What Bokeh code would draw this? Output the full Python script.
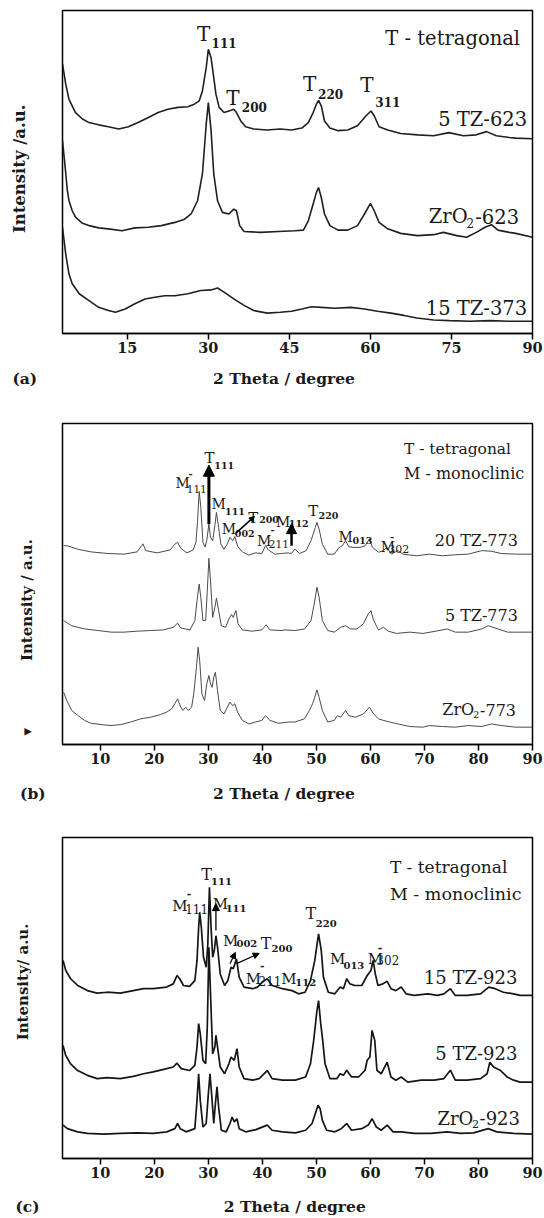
from bokeh.plotting import figure
from bokeh.layouts import column
from bokeh.models import Range1d, FixedTicker, Label, Arrow, NormalHead, LinearAxis
from bokeh.embed import file_html
from bokeh.resources import INLINE

FONT = "DejaVu Serif"
NBSP = "\u00a0"

# ---------------- data: panel (a) ----------------
a_ticks = [15, 30, 45, 60, 75, 90]
a_x_5tz623 = [3.0, 3.6, 4.2, 5.4, 6.7, 7.9, 9.7, 11.5, 13.4, 15.2, 17.0, 18.9, 20.7, 22.5, 24.4, 26.2, 27.4, 28.3, 28.9, 29.6,
              30.0, 30.5, 31.0, 31.4, 32.0, 32.9, 33.8, 34.7, 35.2, 36.0, 36.9, 38.4, 40.9, 43.3, 45.4, 47.3, 48.5, 49.4, 50.0, 50.4,
              50.9, 51.5, 52.5, 54.0, 55.8, 57.6, 59.2, 60.1, 60.7, 61.6, 63.2, 65.6, 68.7, 71.7, 74.5, 77.2, 79.6, 81.5, 83.3, 85.7,
              86.9, 90.0]
a_y_5tz623 = [83.5, 77.2, 72.5, 68.4, 66.4, 65.3, 64.6, 64.0, 63.3, 64.0, 65.3, 66.9, 68.4, 69.4, 70.0, 70.2, 71.0, 72.0, 75.1, 82.3,
              88.0, 85.4, 79.2, 74.1, 70.0, 68.4, 68.9, 69.4, 68.4, 65.8, 64.0, 63.3, 63.0, 63.3, 63.0, 63.6, 65.3, 68.4, 71.0, 72.2,
              70.5, 65.8, 63.6, 62.8, 63.0, 64.3, 67.4, 68.9, 67.4, 64.0, 63.0, 61.9, 61.5, 61.2, 62.2, 61.2, 61.5, 62.5, 61.2, 60.7,
              60.5, 60.3]
a_x_zro2623 = [3.0, 3.5, 3.9, 4.2, 4.8, 5.4, 6.7, 7.9, 9.7, 11.5, 14.0, 16.4, 18.9, 21.3, 23.8, 25.6, 26.8, 28.0, 28.9, 29.6,
               30.0, 30.5, 31.0, 31.7, 32.6, 33.8, 34.7, 35.2, 35.8, 36.6, 39.6, 43.0, 46.0, 47.6, 48.5, 49.4, 50.0, 50.4, 50.9, 51.5,
               52.5, 54.0, 55.8, 57.6, 58.9, 60.0, 60.7, 61.6, 63.2, 65.6, 68.7, 71.7, 73.5, 76.0, 77.8, 79.6, 81.2, 82.4, 83.6, 85.7,
               86.9, 90.0]
a_y_zro2623 = [59.7, 51.4, 44.2, 41.1, 38.0, 36.0, 34.1, 33.4, 32.7, 32.4, 31.8, 32.7, 32.9, 33.4, 34.4, 35.4, 37.0, 41.1, 49.4, 64.8,
               71.5, 62.8, 49.4, 41.1, 37.5, 37.0, 38.5, 38.0, 33.4, 31.6, 31.3, 31.6, 31.8, 32.0, 34.9, 40.1, 43.7, 45.2, 42.1, 37.0,
               33.4, 32.0, 32.0, 33.4, 37.0, 40.3, 38.0, 34.4, 32.4, 31.0, 30.3, 30.6, 31.3, 30.3, 29.8, 31.3, 32.9, 33.7, 32.0, 31.3,
               31.0, 29.8]
a_x_15tz373 = [3.0, 3.6, 4.2, 4.8, 6.1, 7.9, 9.7, 11.5, 12.8, 14.6, 16.4, 18.3, 20.1, 21.9, 23.8, 26.2, 28.6, 30.5, 31.7, 32.9,
               34.7, 36.6, 38.4, 40.9, 43.3, 45.4, 47.3, 49.1, 50.9, 53.4, 56.4, 58.9, 61.3, 63.8, 66.2, 68.6, 71.7, 74.7, 78.4, 82.0,
               85.7, 90.0]
a_y_15tz373 = [32.9, 24.6, 18.4, 15.4, 12.3, 10.2, 8.1, 7.1, 6.6, 7.6, 9.2, 10.7, 11.2, 11.7, 11.7, 12.3, 13.3, 13.5, 14.1, 12.8,
               10.7, 8.7, 7.1, 6.3, 6.6, 6.9, 7.6, 8.3, 8.1, 7.8, 8.1, 7.6, 6.9, 6.3, 5.6, 4.8, 4.2, 4.0, 3.8, 4.0,
               3.8, 3.8]

# ---------------- data: panel (b) ----------------
bc_ticks = [10, 20, 30, 40, 50, 60, 70, 80, 90]
b_x_20tz773 = [3.2, 4.1, 5.9, 8.3, 11.4, 14.4, 16.8, 17.9, 18.4, 20.5, 22.9, 23.8, 24.3, 24.9, 26.0, 27.2, 27.7, 28.0, 28.3, 28.6,
               29.0, 29.4, 29.7, 30.1, 30.4, 30.8, 31.2, 31.5, 31.9, 32.3, 32.9, 33.5, 34.0, 34.5, 34.9, 35.4, 36.3, 37.5, 38.7, 39.9,
               40.6, 41.1, 42.3, 43.6, 44.8, 45.4, 46.0, 46.9, 48.1, 49.0, 49.8, 50.1, 50.5, 51.1, 52.1, 53.3, 54.2, 54.8, 55.4, 56.0,
               56.9, 58.1, 59.0, 59.8, 60.4, 61.5, 62.4, 63.0, 63.9, 65.1, 66.0, 68.5, 70.9, 73.3, 75.7, 78.1, 80.6, 82.4, 84.2, 86.9,
               90.0]
b_y_20tz773 = [62.0, 61.8, 60.8, 60.0, 59.5, 59.3, 60.0, 62.5, 60.4, 59.7, 60.6, 62.4, 63.0, 61.1, 59.7, 60.6, 63.0, 69.5, 78.8, 73.9,
               63.0, 61.5, 63.5, 68.7, 64.5, 63.5, 68.2, 72.3, 67.6, 62.5, 60.8, 62.5, 64.5, 63.5, 64.8, 61.8, 60.0, 59.0, 59.7, 59.5,
               62.0, 60.6, 59.3, 59.5, 59.7, 59.5, 60.9, 59.5, 60.4, 63.5, 67.6, 69.2, 67.1, 62.4, 59.3, 59.3, 61.4, 61.9, 63.5, 61.6,
               61.4, 61.4, 61.9, 64.0, 61.4, 59.9, 60.4, 61.4, 59.3, 60.4, 59.3, 58.8, 59.3, 58.8, 59.1, 59.3, 60.4, 60.2, 59.5, 59.3,
               59.3]
b_x_5tz773 = [3.2, 4.7, 7.1, 9.6, 12.0, 14.4, 16.8, 19.3, 21.7, 23.5, 24.3, 24.9, 26.6, 27.5, 27.9, 28.3, 28.6, 29.0, 29.5, 29.8,
              30.1, 30.4, 30.8, 31.2, 31.5, 31.9, 32.4, 33.2, 33.8, 34.3, 34.6, 35.1, 35.5, 36.3, 38.1, 39.9, 40.7, 41.4, 43.6, 44.2,
              46.0, 47.8, 49.0, 49.6, 50.1, 50.5, 51.1, 52.1, 53.3, 54.5, 55.4, 56.3, 57.5, 58.7, 59.6, 60.1, 60.6, 61.5, 62.4, 63.3,
              64.8, 67.3, 69.7, 72.1, 74.2, 75.7, 78.1, 80.6, 81.8, 83.6, 85.4, 86.9, 90.0]
b_y_5tz773 = [38.6, 37.0, 36.0, 35.5, 35.0, 35.0, 35.3, 35.5, 35.7, 36.5, 37.8, 36.3, 35.7, 38.6, 44.8, 50.0, 45.9, 38.6, 38.6, 47.9,
              58.0, 51.0, 39.6, 42.7, 45.6, 41.7, 37.0, 36.5, 39.1, 40.5, 39.6, 41.7, 37.6, 35.7, 35.3, 35.7, 37.3, 35.7, 35.5, 35.7,
              35.5, 36.0, 38.6, 43.8, 49.0, 45.9, 38.6, 35.5, 35.0, 36.5, 37.0, 36.0, 36.0, 37.6, 40.7, 41.7, 38.6, 35.7, 36.5, 35.3,
              34.6, 35.0, 34.6, 35.3, 36.0, 35.0, 35.0, 36.0, 37.0, 36.0, 35.0, 35.0, 35.0]
b_x_zro2773 = [3.2, 3.8, 4.7, 5.9, 7.1, 8.3, 10.2, 12.0, 13.8, 15.6, 17.5, 19.3, 21.1, 22.3, 23.2, 23.8, 24.3, 24.9, 25.3, 25.8,
               26.3, 26.9, 27.3, 27.8, 28.1, 28.4, 28.8, 29.3, 29.7, 30.1, 30.4, 30.7, 31.0, 31.3, 31.7, 32.2, 32.9, 33.5, 34.0, 34.5,
               34.9, 35.4, 36.3, 37.5, 38.7, 39.9, 40.6, 41.4, 43.0, 44.8, 46.0, 47.8, 48.7, 49.3, 49.7, 50.1, 50.5, 51.1, 52.1, 53.3,
               53.9, 54.5, 55.4, 56.0, 57.2, 58.7, 59.8, 60.6, 61.5, 62.4, 63.6, 65.1, 67.3, 69.7, 70.9, 73.3, 75.7, 78.1, 80.6, 82.4,
               84.2, 86.9, 90.0]
b_y_zro2773 = [16.3, 13.7, 10.6, 9.0, 7.5, 6.6, 6.2, 5.9, 6.2, 7.0, 8.0, 8.5, 9.3, 10.1, 11.1, 12.7, 14.2, 11.6, 10.6, 11.6,
               10.6, 11.6, 15.8, 24.1, 30.3, 26.1, 15.8, 13.7, 18.9, 21.5, 18.9, 17.8, 21.0, 22.5, 16.8, 10.6, 9.5, 11.6, 13.2, 12.1,
               12.7, 10.1, 7.5, 6.4, 7.0, 7.5, 9.0, 7.5, 6.6, 7.0, 7.0, 8.0, 10.6, 12.7, 14.7, 17.0, 14.7, 10.6, 7.0, 7.5,
               9.0, 8.5, 10.6, 9.0, 8.5, 9.5, 11.6, 9.5, 8.0, 7.5, 7.0, 6.4, 5.6, 5.4, 5.9, 5.6, 5.4, 5.9, 5.6, 6.4,
               5.9, 5.4, 5.4]

# ---------------- data: panel (c) ----------------
c_x_15tz923 = [3.1, 3.6, 4.5, 5.8, 7.6, 9.4, 11.3, 13.7, 16.1, 18.0, 19.8, 22.3, 23.5, 24.2, 24.7, 25.4, 26.5, 27.5, 27.9, 28.2,
               28.4, 28.7, 29.1, 29.6, 29.9, 30.2, 30.5, 30.8, 31.1, 31.4, 31.7, 32.2, 33.0, 33.6, 34.2, 34.6, 35.2, 35.7, 36.6, 38.2,
               39.1, 40.0, 40.9, 41.8, 43.7, 45.5, 46.7, 47.9, 48.9, 49.7, 50.4, 50.9, 51.3, 52.2, 53.4, 54.4, 55.0, 55.6, 56.2, 57.1,
               58.4, 59.4, 60.1, 60.5, 60.9, 61.4, 62.3, 63.1, 63.8, 64.7, 65.7, 66.6, 68.1, 70.6, 72.4, 73.6, 74.8, 75.7, 77.9, 80.4,
               81.9, 83.1, 84.6, 86.5, 87.7, 90.0]
c_y_15tz923 = [61.7, 58.6, 56.0, 53.9, 52.3, 51.5, 51.8, 51.5, 52.3, 52.9, 52.9, 53.4, 54.4, 57.0, 56.0, 53.9, 53.6, 55.4, 61.7, 72.0,
               76.7, 72.0, 62.7, 59.6, 66.8, 84.5, 72.0, 62.7, 64.8, 69.4, 65.8, 57.5, 53.9, 55.4, 59.6, 59.1, 62.2, 56.5, 53.4, 52.9,
               53.4, 55.0, 56.0, 53.9, 52.9, 52.3, 51.3, 51.8, 55.4, 61.7, 70.0, 64.8, 56.5, 51.8, 51.3, 53.4, 52.9, 56.0, 54.4, 53.9,
               53.9, 57.0, 58.6, 61.7, 57.5, 53.9, 54.4, 55.2, 52.9, 52.3, 53.4, 51.3, 50.8, 51.3, 50.8, 51.3, 52.9, 50.8, 50.8, 51.3,
               53.4, 52.9, 51.8, 51.3, 50.8, 50.8]
c_x_5tz923 = [3.1, 3.6, 4.5, 5.8, 7.6, 9.4, 11.3, 13.7, 16.1, 18.0, 19.8, 22.3, 23.5, 24.2, 25.0, 26.5, 27.5, 27.9, 28.2, 28.5,
              29.0, 29.5, 29.8, 30.1, 30.4, 30.8, 31.2, 31.4, 31.7, 32.2, 33.0, 33.8, 34.2, 34.8, 35.3, 35.7, 36.6, 38.2, 39.4, 40.9,
              41.8, 43.7, 46.1, 48.0, 48.9, 49.5, 50.1, 50.4, 50.8, 51.1, 51.6, 52.5, 53.8, 54.4, 55.0, 55.6, 56.5, 57.8, 59.0, 59.4,
              59.9, 60.3, 60.8, 61.2, 62.0, 63.1, 63.8, 64.7, 65.7, 66.9, 69.4, 71.8, 73.6, 74.8, 75.7, 77.9, 80.4, 81.6, 82.1, 82.8,
              84.0, 85.3, 86.5, 87.7, 90.0]
c_y_5tz923 = [35.2, 32.1, 29.5, 27.4, 25.9, 24.9, 25.2, 24.9, 25.6, 26.4, 27.0, 28.0, 28.5, 29.7, 28.0, 27.4, 29.0, 34.7, 42.0, 38.9,
              30.6, 29.5, 40.9, 65.8, 51.3, 32.6, 34.7, 38.4, 34.7, 28.5, 26.4, 29.5, 31.6, 30.6, 34.2, 28.5, 24.9, 24.4, 24.9, 27.4,
              24.9, 24.4, 24.4, 25.4, 29.5, 36.8, 46.1, 49.2, 42.0, 37.8, 29.5, 24.9, 24.9, 26.4, 25.9, 27.5, 25.4, 25.4, 27.5, 30.6,
              31.6, 39.9, 36.8, 27.5, 26.4, 30.0, 25.4, 24.4, 25.4, 23.8, 24.4, 24.4, 24.9, 27.5, 24.4, 24.4, 24.9, 26.4, 30.0, 28.5,
              27.5, 25.4, 24.4, 23.8, 23.8]
c_x_zro2923 = [3.1, 3.9, 5.8, 7.6, 10.6, 13.7, 16.8, 19.8, 22.3, 23.8, 24.3, 24.8, 25.9, 27.5, 27.9, 28.2, 28.5, 29.0, 29.6, 30.0,
               30.3, 30.6, 31.0, 31.3, 31.6, 31.9, 32.4, 33.3, 34.0, 34.4, 34.8, 35.3, 35.7, 36.9, 38.8, 40.9, 41.8, 43.7, 46.1, 48.0,
               49.2, 49.8, 50.3, 50.7, 51.1, 51.9, 53.4, 54.6, 55.6, 56.5, 58.4, 59.6, 60.3, 61.1, 62.0, 63.1, 64.2, 65.7, 68.1, 71.2,
               74.2, 76.7, 79.1, 81.8, 83.4, 86.5, 90.0]
c_y_zro2923 = [10.4, 9.3, 8.3, 7.8, 7.6, 7.8, 8.0, 7.8, 8.3, 9.3, 10.9, 9.3, 8.3, 9.3, 18.1, 26.4, 18.1, 9.8, 10.9, 20.2,
               26.4, 20.2, 10.9, 17.1, 22.3, 16.1, 8.8, 8.3, 10.9, 12.9, 11.4, 12.4, 9.3, 8.3, 9.0, 10.4, 8.8, 8.3, 8.0, 8.8,
               10.9, 14.0, 16.6, 15.5, 11.9, 8.8, 8.3, 9.3, 10.9, 8.8, 9.3, 10.4, 12.4, 9.8, 8.8, 10.4, 8.3, 8.3, 7.8, 7.8,
               8.3, 7.8, 8.0, 9.3, 8.3, 7.8, 7.6]

TXT = "#1a1a1a"


def base_fig(h, left, right, top, bottom, ticks, panel_tag, tag_pad, title_tick, title_standoff,
             ylabel, ylabel_tick, ylabel_size, ylabel_standoff, extra_y=None):
    p = figure(width=544, height=h, x_range=Range1d(3, 90), y_range=Range1d(0, 100),
               output_backend="svg", toolbar_location=None,
               min_border_left=left, min_border_right=right,
               min_border_top=top, min_border_bottom=bottom)
    p.xgrid.visible = False
    p.ygrid.visible = False
    p.outline_line_color = "black"
    p.outline_line_width = 1.5
    p.outline_line_alpha = 1.0
    p.background_fill_color = "white"
    p.border_fill_color = "white"
    ax = p.xaxis[0]
    ax.ticker = FixedTicker(ticks=ticks)
    ax.minor_tick_line_color = None
    ax.major_tick_in = 0
    ax.major_tick_out = 6
    ax.major_tick_line_width = 1.5
    ax.axis_line_width = 1.5
    ax.major_label_text_font = FONT
    ax.major_label_text_font_style = "bold"
    ax.major_label_text_font_size = "14.5px"
    ax.major_label_text_color = TXT
    ax.major_label_standoff = 2
    tag = panel_tag + NBSP * tag_pad
    ax2 = LinearAxis(ticker=FixedTicker(ticks=[4, title_tick]),
                     major_label_overrides={4: tag, title_tick: "2 Theta / degree"},
                     axis_line_color=None, major_tick_line_color=None, minor_tick_line_color=None,
                     major_tick_in=0, major_tick_out=0, major_label_standoff=title_standoff,
                     major_label_text_font=FONT, major_label_text_font_style="bold",
                     major_label_text_font_size="15.5px", major_label_text_color=TXT)
    p.add_layout(ax2, "below")
    ay = p.yaxis[0]
    yt = [ylabel_tick]
    overrides = {ylabel_tick: ylabel}
    if extra_y is not None:
        yt.append(extra_y[0])
        overrides[extra_y[0]] = extra_y[1]
    ay.ticker = FixedTicker(ticks=yt)
    ay.major_label_overrides = overrides
    ay.major_label_orientation = "parallel"
    ay.axis_line_color = None
    ay.major_tick_line_color = None
    ay.minor_tick_line_color = None
    ay.major_tick_in = 0
    ay.major_tick_out = 0
    ay.major_label_standoff = ylabel_standoff
    ay.major_label_text_font = FONT
    ay.major_label_text_font_style = "bold"
    ay.major_label_text_font_size = ylabel_size
    ay.major_label_text_color = TXT
    return p


def lab(p, x, y, text, size, bold=False, align="left", baseline="alphabetic"):
    p.add_layout(Label(x=x, y=y, text=text, text_font=FONT, text_font_size=f"{size}px",
                       text_font_style="bold" if bold else "normal", text_align=align,
                       text_baseline=baseline, text_color=TXT))


def peak(p, x, y, letter, size, sx, sy, sub, sub_size, sub_bold=True):
    lab(p, x, y, letter, size)
    lab(p, sx, sy, sub, sub_size, bold=sub_bold)


def bar(p, x, y, size):
    # overbar of a negative Miller index
    lab(p, x, y, "-", size, bold=True, align="center", baseline="middle")


def arrow(p, x0, y0, x1, y1, width, head):
    p.add_layout(Arrow(end=NormalHead(size=head, fill_color="black", line_color="black", line_width=1),
                       x_start=x0, y_start=y0, x_end=x1, y_end=y1,
                       line_width=width, line_color="black"))


# ---------------- panel (a) ----------------
pa = base_fig(400, 62, 7, 10, 67, a_ticks, "(a)", 16, 44, 13,
              "Intensity /a.u.", 51, "16.5px", 33)
for xs, ys in [(a_x_5tz623, a_y_5tz623), (a_x_zro2623, a_y_zro2623), (a_x_15tz373, a_y_15tz373)]:
    pa.line(xs, ys, line_color="#202020", line_width=1.6)
lab(pa, 87.7, 91.2, "T - tetragonal", 19.5, align="right")
peak(pa, 27.9, 92.6, "T", 20, 30.6, 90.0, "111", 12)
peak(pa, 33.3, 73.0, "T", 20, 36.2, 70.2, "200", 12)
peak(pa, 47.5, 77.2, "T", 20, 50.3, 74.0, "220", 12)
peak(pa, 58.1, 77.0, "T", 20, 60.9, 71.7, "311", 12)
lab(pa, 89.0, 66.2, "5 TZ-623", 19.5, align="right")
lab(pa, 70.8, 36.2, "ZrO", 19.5)
lab(pa, 77.8, 34.3, "2", 12)
lab(pa, 79.4, 36.2, "-623", 19.5)
lab(pa, 89.0, 7.7, "15 TZ-373", 19.5, align="right")

# ---------------- panel (b) ----------------
pb = base_fig(410, 54, 12, 23, 66, bc_ticks, "(b)", 13, 44, 17,
              "Intensity / a.u.", 45, "15px", 26, extra_y=(4, "\u25BE"))
for xs, ys in [(b_x_20tz773, b_y_20tz773), (b_x_5tz773, b_y_5tz773), (b_x_zro2773, b_y_zro2773)]:
    pb.line(xs, ys, line_color="#4a4a4a", line_width=1.0)
lab(pb, 66.2, 92.1, "T - tetragonal", 15.5)
lab(pb, 66.2, 84.3, "M - monoclinic", 16)
peak(pb, 29.3, 89.4, "T", 15, 31.1, 86.8, "111", 9.5)
peak(pb, 23.9, 81.6, "M", 14, 26.0, 79.7, "111", 10.5, sub_bold=False)
bar(pb, 26.7, 84.4, 10)
peak(pb, 30.6, 74.9, "M", 14, 33.1, 72.5, "111", 9.5)
peak(pb, 37.4, 70.6, "T", 15, 39.4, 70.0, "200", 9.5)
peak(pb, 32.5, 67.1, "M", 14, 34.9, 65.6, "002", 9.5)
peak(pb, 39.0, 63.5, "M", 14, 41.2, 62.5, "211", 10.5, sub_bold=False)
bar(pb, 41.9, 67.1, 10)
peak(pb, 42.5, 69.2, "M", 14, 44.9, 68.7, "112", 9.5)
peak(pb, 48.5, 72.8, "T", 15, 50.4, 71.3, "220", 9.5)
peak(pb, 54.1, 64.5, "M", 14, 56.7, 63.5, "013", 9.5)
peak(pb, 61.9, 61.4, "M", 14, 63.3, 60.9, "302", 11, sub_bold=False)
bar(pb, 64.0, 64.9, 10)
arrow(pb, 30.1, 68.7, 30.1, 87.0, 3, 11)
arrow(pb, 35.2, 66.0, 38.5, 71.0, 1.5, 5)
arrow(pb, 45.4, 61.9, 45.4, 68.8, 2.5, 10)
lab(pb, 87.3, 63.5, "20 TZ-773", 16, align="right")
lab(pb, 87.3, 40.1, "5 TZ-773", 16, align="right")
lab(pb, 73.3, 10.8, "ZrO", 16)
lab(pb, 79.0, 9.3, "2", 10)
lab(pb, 80.3, 10.8, "-773", 16)

# ---------------- panel (c) ----------------
pc = base_fig(408, 58, 10, 27, 60, bc_ticks, "(c)", 15, 46, 16,
              "Intensity/ a.u.", 55, "15px", 30)
for xs, ys in [(c_x_15tz923, c_y_15tz923), (c_x_5tz923, c_y_5tz923), (c_x_zro2923, c_y_zro2923)]:
    pc.line(xs, ys, line_color="#151515", line_width=1.7)
lab(pc, 63.6, 90.9, "T - tetragonal", 17)
lab(pc, 63.6, 82.5, "M - monoclinic", 17.5)
peak(pc, 28.7, 88.6, "T", 16, 30.5, 86.3, "111", 10)
peak(pc, 23.3, 78.8, "M", 15, 25.7, 77.8, "111", 12, sub_bold=False)
bar(pc, 26.4, 82.4, 11)
peak(pc, 30.8, 79.4, "M", 15, 33.2, 77.8, "111", 10)
peak(pc, 32.7, 67.9, "M", 15, 35.2, 66.9, "002", 10)
peak(pc, 39.7, 66.9, "T", 16, 41.7, 65.3, "200", 10)
peak(pc, 36.9, 56.0, "M", 15, 39.3, 55.4, "211", 12, sub_bold=False)
bar(pc, 40.0, 60.0, 11)
peak(pc, 43.5, 56.0, "M", 15, 46.1, 54.9, "112", 10)
peak(pc, 48.0, 76.2, "T", 16, 49.9, 73.1, "220", 10)
peak(pc, 52.5, 62.2, "M", 15, 55.0, 60.1, "013", 10)
peak(pc, 59.5, 62.2, "M", 15, 61.1, 61.7, "302", 12, sub_bold=False)
bar(pc, 61.8, 65.6, 11)
arrow(pc, 31.4, 71.0, 31.4, 79.4, 1.3, 7)
arrow(pc, 34.0, 60.7, 35.0, 64.2, 1.2, 6)
arrow(pc, 35.2, 60.7, 39.4, 63.9, 1.2, 6)
lab(pc, 87.2, 56.3, "15 TZ-923", 18, align="right")
lab(pc, 87.2, 32.7, "5 TZ-923", 18, align="right")
lab(pc, 72.4, 12.5, "ZrO", 18)
lab(pc, 78.8, 10.9, "2", 11)
lab(pc, 80.2, 12.5, "-923", 18)

layout = column(pa, pb, pc, spacing=0)
open("out.html", "w").write(file_html(layout, INLINE))
